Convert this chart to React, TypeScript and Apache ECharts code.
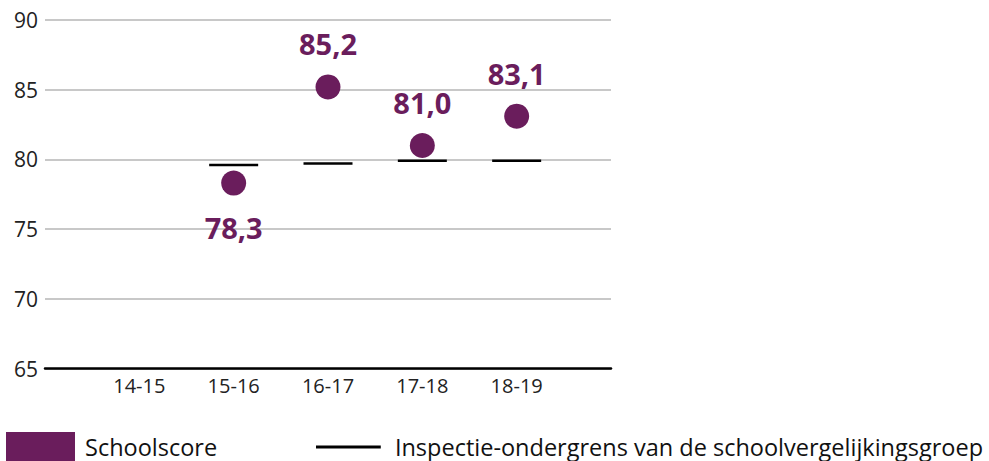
import React, { useEffect, useRef } from "react";
import * as echarts from "echarts";

const categories = ["", "14-15", "15-16", "16-17", "17-18", "18-19", ""];
const schoolscore = [null, null, 78.3, 85.2, 81.0, 83.1, null];
const ondergrens = [null, null, 79.6, 79.7, 79.9, 79.9, null];
const labelBelow = [false, false, true, false, false, false, false];
const yTicks = { min: 65, max: 90, interval: 5 };

const PURPLE = "#6a1d5c";
const FONT = "'Open Sans', sans-serif";
const fmt = (v: number) => v.toFixed(1).replace(".", ",");
const LINE_ICON = "path://M0,0L0,0ZM0,14L67,14L67,17L0,17ZM0,30L0,30Z";

export default function App() {
  const ref = useRef<HTMLDivElement>(null);
  useEffect(() => {
    if (!ref.current) return;
    const chart = echarts.init(ref.current, null, { renderer: "svg" });
    chart.setOption({
      animation: false,
      textStyle: { fontFamily: FONT },
      grid: { left: 45, right: 378, top: 20, bottom: 92.5, containLabel: false },
      xAxis: {
        type: "category",
        data: categories,
        boundaryGap: false,
        axisLine: { lineStyle: { color: "#000", width: 2.5 } },
        axisTick: { show: false },
        axisLabel: { color: "#222", fontSize: 20, margin: 7, fontFamily: FONT },
        splitLine: { show: false },
      },
      yAxis: {
        type: "value",
        min: yTicks.min,
        max: yTicks.max,
        interval: yTicks.interval,
        axisLine: { show: false },
        axisTick: { show: false },
        axisLabel: { color: "#222", fontSize: 21, margin: 7, fontFamily: FONT },
        splitLine: { lineStyle: { color: "#c8c8c8", width: 2 } },
      },
      legend: [
        {
          left: 6,
          top: 432,
          padding: 0,
          icon: "rect",
          itemWidth: 69,
          itemHeight: 29,
          data: ["Schoolscore"],
          textStyle: { fontSize: 23.5, color: "#111", fontFamily: FONT, padding: [0, 0, 0, 5] },
          selectedMode: false,
        },
        {
          left: 316,
          top: 432,
          padding: 0,
          icon: LINE_ICON,
          itemWidth: 67,
          itemHeight: 29,
          data: ["Inspectie-ondergrens van de schoolvergelijkingsgroep"],
          itemStyle: { color: "#000" },
          textStyle: { fontSize: 23.5, color: "#111", fontFamily: FONT, padding: [0, 0, 0, 8] },
          selectedMode: false,
        },
      ],
      series: [
        {
          name: "Inspectie-ondergrens van de schoolvergelijkingsgroep",
          type: "scatter",
          symbol: "rect",
          symbolSize: [49, 2.5],
          itemStyle: { color: "#000", opacity: 1 },
          data: ondergrens,
          silent: true,
          z: 2,
        },
        {
          name: "Schoolscore",
          type: "scatter",
          symbol: "circle",
          symbolSize: 25,
          itemStyle: { color: PURPLE, opacity: 1 },
          silent: true,
          z: 3,
          data: schoolscore.map((v, i) =>
            v == null
              ? null
              : {
                  value: v,
                  label: {
                    show: true,
                    position: labelBelow[i] ? "bottom" : "top",
                    distance: labelBelow[i] ? 17 : 16,
                    formatter: () => fmt(v),
                    color: PURPLE,
                    fontSize: 29,
                    fontWeight: 700,
                    fontFamily: FONT,
                  },
                }
          ),
        },
      ],
    });
    return () => chart.dispose();
  }, []);
  return <div ref={ref} style={{ width: 989, height: 461, position: "absolute", left: 0, top: 0 }} />;
}
